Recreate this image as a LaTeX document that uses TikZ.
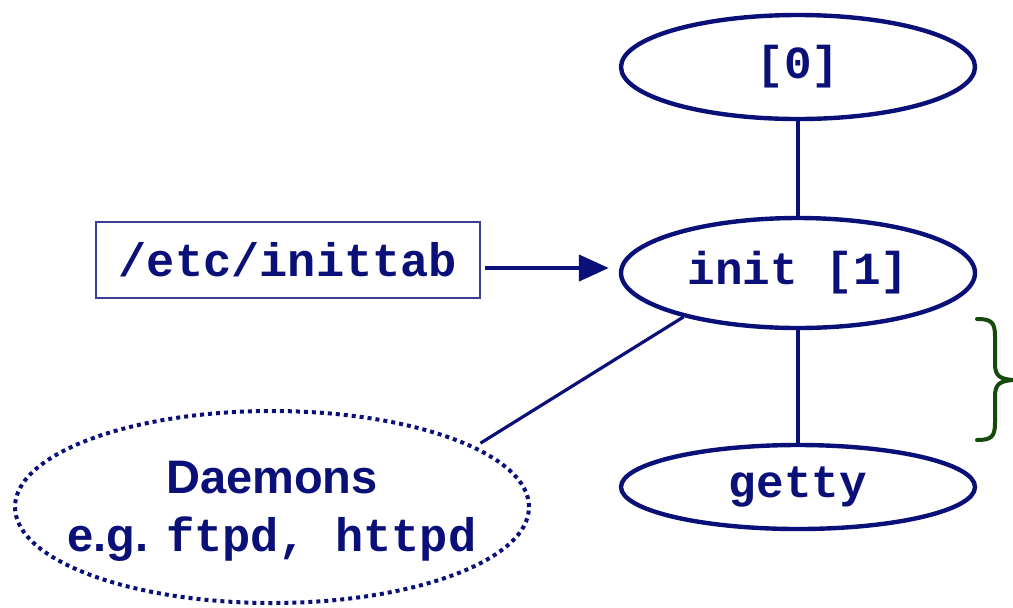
\documentclass[tikz,border=0pt]{standalone}
\usepackage{fontspec}
\setmainfont{Liberation Sans}
\newfontfamily\cour{Liberation Mono}
\usetikzlibrary{shapes.geometric,arrows.meta}
\definecolor{navy}{RGB}{10,16,120}
\definecolor{bracegreen}{RGB}{20,75,10}
\tikzset{
  proc/.style={ellipse, draw=navy, line width=2.2pt, minimum width=177pt, minimum height=52pt, inner sep=0pt, text=navy, font=\cour\bfseries\fontsize{23pt}{27pt}\selectfont},
  conn/.style={draw=navy, line width=2.2pt},
}
\begin{document}
\begin{tikzpicture}[x=0.5pt,y=-0.5pt]
\useasboundingbox (0,0) rectangle (1013,607);
\node[proc] (p0) at (798,67) {\raisebox{-1.5pt}{[0]}};
\node[proc, minimum height=55pt] (init) at (798,273) {\raisebox{-2pt}{init [1]}};
\node[proc, minimum height=42pt] (getty) at (798,487) {\raisebox{-1.5pt}{getty}};
\node[draw=navy!80, line width=0.8pt, minimum width=192pt, minimum height=38pt, inner sep=0pt, text=navy, font=\cour\bfseries\fontsize{23.5pt}{27pt}\selectfont] (tab) at (288,260) {\raisebox{-1.5pt}{/etc/inittab}};
\node[ellipse, draw=navy, line width=2pt, dash pattern=on 2pt off 2pt, minimum width=257pt, minimum height=96pt, inner sep=0pt] (dae) at (272,507) {};
\node[text=navy, align=center, font=\bfseries\fontsize{23.5pt}{29pt}\selectfont, anchor=center] (daetext) at ([yshift=-2pt]dae.center) {Daemons\\e.g. {\cour ftpd, httpd}};
\draw[conn] (p0) -- (init);
\draw[conn] (init) -- (getty);
\draw[conn, -{Triangle[length=15pt,width=13pt]}, shorten >=5pt] ([xshift=2pt,yshift=-4pt]tab.east) coordinate (ts) -- (ts -| init.west);
\draw[conn, line width=1.6pt] ([shift={(6pt,0pt)}]dae.18) -- (init.201);
\draw[bracegreen, line width=2pt, line cap=round] (977,319) .. controls (991,319) and (995,322) .. (995,336) -- (995,364) .. controls (995,376) and (1000,379) .. (1013,380)
  (977,440) .. controls (991,440) and (995,437) .. (995,423) -- (995,396) .. controls (995,384) and (1000,381) .. (1013,380);
\end{tikzpicture}
\end{document}
